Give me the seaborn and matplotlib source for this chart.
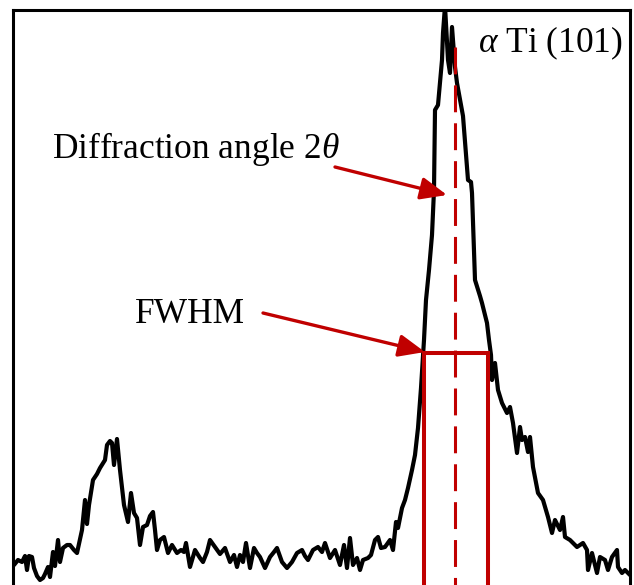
import matplotlib
matplotlib.use("Agg")
import matplotlib.pyplot as plt
import seaborn as sns
import pandas as pd

# ---- data (2theta in degrees, intensity in a.u.) ----
two_theta = [
    37.845, 37.865, 37.885, 37.900, 37.910, 37.920, 37.935, 37.945, 37.960, 37.975,
    37.990, 38.000, 38.015, 38.025, 38.040, 38.050, 38.065, 38.075, 38.090, 38.110,
    38.125, 38.145, 38.160, 38.185, 38.200, 38.210, 38.220, 38.240, 38.260, 38.275,
    38.300, 38.310, 38.325, 38.335, 38.345, 38.360, 38.375, 38.395, 38.415, 38.430,
    38.445, 38.460, 38.475, 38.490, 38.510, 38.525, 38.540, 38.550, 38.560, 38.575,
    38.595, 38.615, 38.635, 38.660, 38.680, 38.695, 38.705, 38.725, 38.750, 38.775,
    38.790, 38.810, 38.825, 38.850, 38.875, 38.900, 38.925, 38.945, 38.960, 38.975,
    38.990, 39.005, 39.025, 39.045, 39.060, 39.075, 39.100, 39.125, 39.145, 39.160,
    39.185, 39.210, 39.235, 39.260, 39.285, 39.300, 39.315, 39.340, 39.365, 39.385,
    39.400, 39.425, 39.450, 39.475, 39.495, 39.510, 39.525, 39.540, 39.560, 39.575,
    39.590, 39.615, 39.630, 39.650, 39.665, 39.680, 39.700, 39.725, 39.740, 39.755,
    39.765, 39.785, 39.800, 39.815, 39.835, 39.850, 39.865, 39.880, 39.890, 39.895,
    39.905, 39.920, 39.935, 39.945, 39.950, 39.965, 39.985, 39.990, 40.000,
    40.015, 40.025, 40.035, 40.050, 40.060, 40.085, 40.090, 40.115, 40.130, 40.135,
    40.150, 40.175, 40.185, 40.210, 40.220, 40.230, 40.235, 40.250, 40.265, 40.285,
    40.310, 40.325, 40.340, 40.360, 40.375, 40.385, 40.400, 40.415, 40.425, 40.440,
    40.465, 40.490, 40.515, 40.535, 40.550, 40.575, 40.590, 40.600, 40.625, 40.660,
    40.690, 40.710, 40.715, 40.735, 40.760, 40.775, 40.800, 40.815, 40.835, 40.860,
    40.865, 40.885, 40.900, 40.915, 40.925,
]
intensity = [
    20, 25, 23, 29, 15, 29, 28, 17, 9, 5,
    7, 11, 18, 8, 33, 19, 45, 23, 37, 40,
    40, 35, 32, 55, 85, 61, 80, 105, 111, 117,
    125, 140, 144, 142, 120, 146, 115, 80, 63, 92,
    72, 67, 40, 58, 60, 69, 73, 55, 35, 45,
    48, 32, 40, 32, 35, 33, 42, 18, 35, 27,
    23, 33, 45, 38, 31, 37, 23, 30, 18, 30,
    23, 42, 17, 37, 32, 28, 17, 28, 33, 37,
    23, 17, 23, 32, 35, 29, 25, 35, 38, 33,
    42, 27, 35, 20, 40, 17, 47, 20, 27, 15,
    25, 27, 30, 45, 48, 37, 38, 45, 35, 63,
    57, 77, 85, 97, 115, 130, 157, 197, 230, 245,
    285, 315, 350, 395, 475, 480, 525, 552, 579,
    525, 512, 558, 518, 502, 475, 469, 405, 403, 392,
    305, 289, 282, 262, 245, 230, 205, 222, 195, 182,
    172, 178, 162, 132, 158, 145, 148, 133, 148, 118,
    92, 85, 68, 52, 65, 55, 68, 48, 45, 38,
    42, 35, 15, 32, 12, 28, 25, 15, 28, 35,
    18, 12, 15, 12, 10,
]

# annotation values
peak_pos = 40.05          # diffraction angle 2theta (dashed line)
peak_top = 538
fwhm_left = 39.895
fwhm_right = 40.215
half_max = 232

label_angle = r"Diffraction angle 2$\theta$"
label_fwhm = "FWHM"
label_phase = r"$\alpha$ Ti (101)"

RED = "#C00000"

sns.set_theme(style="white")
plt.rcParams["font.family"] = ["Liberation Serif", "DejaVu Serif"]
plt.rcParams["mathtext.fontset"] = "custom"
plt.rcParams["mathtext.rm"] = "Liberation Serif"
plt.rcParams["mathtext.it"] = "Liberation Serif:italic"

fig = plt.figure(figsize=(6.34, 5.85), dpi=100)
ax = fig.add_axes([13 / 634, 0.0, 617 / 634, 1 - 10 / 585])

df = pd.DataFrame({"two_theta": two_theta, "intensity": intensity})
sns.lineplot(data=df, x="two_theta", y="intensity", ax=ax, color="black",
             linewidth=3.0, estimator=None, sort=False, zorder=3)

# FWHM box
ax.plot([fwhm_left, fwhm_left, fwhm_right, fwhm_right], [0, half_max, half_max, 0],
        color=RED, linewidth=2.9, solid_joinstyle="miter", zorder=4)
# dashed peak position
ax.plot([peak_pos, peak_pos], [peak_top, 0], color=RED, linewidth=2.2,
        dashes=(8.8, 3.6), zorder=4)

arrow_kw = dict(arrowstyle="-|>,head_length=0.4,head_width=0.17", color=RED,
                lw=2.4, mutation_scale=40, shrinkA=0, shrinkB=0)
ax.annotate("", xy=(40.01, 390), xytext=(39.45, 418), arrowprops=arrow_kw, zorder=5)
ax.annotate("", xy=(39.90, 233), xytext=(39.09, 272), arrowprops=arrow_kw, zorder=5)

FS = 25.5
ax.text(38.035, 427, label_angle, fontsize=FS, ha="left", va="baseline", color="black")
ax.text(38.45, 262, label_fwhm, fontsize=FS, ha="left", va="baseline", color="black")
ax.text(40.89, 533, label_phase, fontsize=FS, ha="right", va="baseline", color="black")

ax.set_xlim(37.84, 40.925)
ax.set_ylim(0, 575)
ax.set_xticks([])
ax.set_yticks([])
ax.set_xlabel("")
ax.set_ylabel("")
for side in ["left", "top", "right"]:
    ax.spines[side].set_visible(True)
    ax.spines[side].set_color("black")
    ax.spines[side].set_linewidth(2.2)
ax.spines["bottom"].set_visible(False)

fig.savefig("out.png", dpi=100)
